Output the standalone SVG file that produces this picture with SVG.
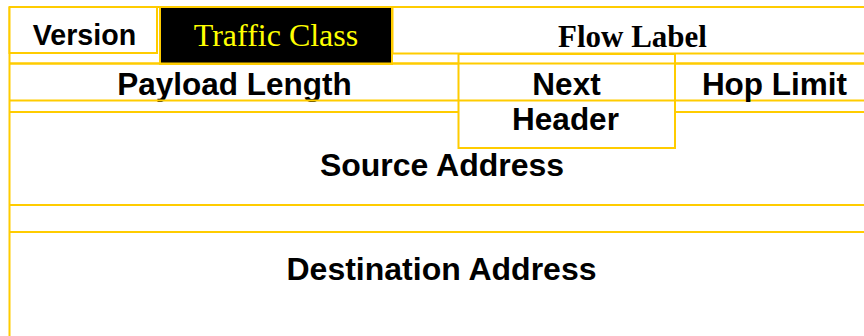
<svg xmlns="http://www.w3.org/2000/svg" width="864" height="336" viewBox="0 0 864 336">
<style>
.ln{stroke:#FFCC00;stroke-width:2;fill:none}
.box{stroke:#FFCC00;stroke-width:2;fill:#FFFFFF}
.sans{font-family:"Liberation Sans",Arial,sans-serif;font-weight:bold;fill:#000000;text-anchor:middle}
.serif{font-family:"Liberation Serif","Times New Roman",serif;text-anchor:middle}
</style>
<rect x="0" y="0" width="864" height="336" fill="#FFFFFF"/>
<g id="grid">
<line class="ln" x1="9.5" y1="7" x2="864" y2="7"/>
<line class="ln" x1="9.5" y1="7" x2="9.5" y2="336"/>
<line class="ln" x1="9.5" y1="63.5" x2="864" y2="63.5"/>
<line class="ln" x1="9.5" y1="112" x2="864" y2="112"/>
<line class="ln" x1="9.5" y1="205" x2="864" y2="205"/>
<line class="ln" x1="9.5" y1="232" x2="864" y2="232"/>
</g>
<g id="version">
<rect class="box" x="9.5" y="7" width="147.5" height="46"/>
<text class="sans" x="84.5" y="45" font-size="28.6">Version</text>
</g>
<g id="traffic-class">
<rect x="160" y="7" width="232" height="57" fill="#000000" stroke="#FFCC00" stroke-width="2"/>
<text class="serif" x="276" y="46" font-size="32" fill="#FFFF00">Traffic Class</text>
</g>
<g id="flow-label">
<rect class="box" x="392.5" y="7" width="480" height="46.5"/>
<text class="serif" x="632.5" y="46.5" font-size="31" font-weight="bold" fill="#000000">Flow Label</text>
</g>
<g id="payload-length">
<text class="sans" x="234.5" y="95" font-size="31.5">Payload Length</text>
</g>
<g id="next-header">
<rect class="box" x="458.5" y="54" width="216.5" height="94"/>
<text class="sans" x="566.5" y="94.5" font-size="31.5">Next</text>
<text class="sans" x="565.5" y="130" font-size="31.5">Header</text>
</g>
<g id="row-lines">
<line class="ln" x1="9.5" y1="63.5" x2="864" y2="63.5"/>
<line class="ln" x1="9.5" y1="100.5" x2="864" y2="100.5"/>
</g>
<g id="hop-limit">
<text class="sans" x="774.5" y="94.5" font-size="31.5">Hop Limit</text>
</g>
<g id="source-address">
<text class="sans" x="442" y="176" font-size="32">Source Address</text>
</g>
<g id="destination-address">
<text class="sans" x="441.5" y="280" font-size="32">Destination Address</text>
</g>
<g id="connectors"></g>
</svg>
